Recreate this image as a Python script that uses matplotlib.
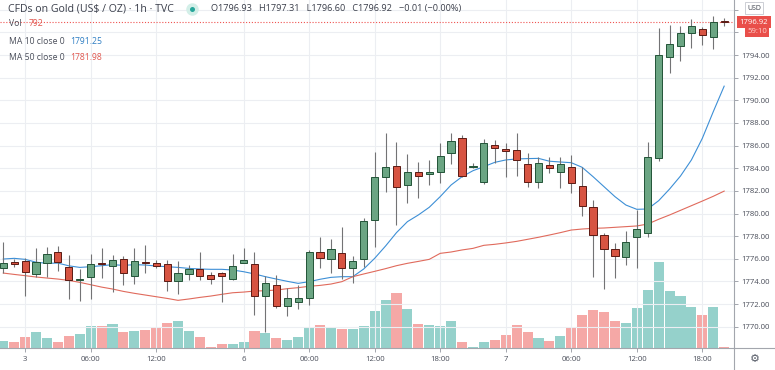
import numpy as np
import matplotlib
matplotlib.use("Agg")
import matplotlib.pyplot as plt
from matplotlib.lines import Line2D

plt.rcParams['font.family'] = ['Open Sans', 'DejaVu Sans']

# hourly bars, CFDs on Gold (US$ / OZ), TVC
opens = [1775.21, 1775.71, 1775.80, 1774.68, 1775.60, 1776.57, 1775.30, 1774.10, 1774.36, 1775.65,
         1775.36, 1776.01, 1774.51, 1775.71, 1775.63, 1775.51, 1774.06, 1774.62, 1775.07, 1774.57,
         1774.71, 1774.21, 1775.60, 1775.54, 1772.74, 1773.68, 1771.86, 1772.21, 1772.57, 1776.57,
         1775.95, 1776.48, 1775.21, 1775.95, 1779.43, 1783.19, 1784.20, 1782.52, 1783.64, 1783.49,
         1783.64, 1785.37, 1786.64, 1784.10, 1782.81, 1786.05, 1785.67, 1785.61, 1784.34, 1782.81,
         1784.26, 1783.70, 1784.08, 1782.46, 1780.54, 1778.10, 1776.83, 1776.13, 1777.90, 1778.31,
         1784.87, 1793.85, 1794.83, 1795.97, 1796.33, 1795.56, 1796.93]
highs = [1777.51, 1775.94, 1776.04, 1776.92, 1777.07, 1777.16, 1776.33, 1775.07, 1776.42, 1776.92,
         1776.33, 1776.24, 1776.92, 1777.21, 1775.86, 1775.89, 1775.80, 1775.45, 1776.57, 1774.86,
         1774.86, 1776.39, 1776.92, 1776.57, 1774.48, 1774.57, 1773.45, 1773.68, 1776.78, 1777.90,
         1777.75, 1778.78, 1776.25, 1779.63, 1785.46, 1787.08, 1786.35, 1785.23, 1784.58, 1784.73,
         1786.20, 1787.08, 1786.93, 1784.43, 1786.58, 1786.49, 1786.20, 1787.08, 1785.32, 1785.02,
         1785.02, 1785.02, 1785.17, 1784.14, 1781.19, 1778.25, 1777.37, 1778.45, 1780.31, 1786.35,
         1796.36, 1796.65, 1796.56, 1797.15, 1796.50, 1797.48, 1797.31]
lows = [1774.77, 1775.24, 1772.74, 1774.42, 1774.42, 1774.92, 1772.44, 1772.30, 1772.44, 1774.27,
        1773.09, 1773.68, 1773.74, 1774.77, 1775.15, 1773.15, 1772.86, 1774.12, 1774.12, 1773.74,
        1772.21, 1774.12, 1775.60, 1771.03, 1769.56, 1771.62, 1770.95, 1771.53, 1771.92, 1775.15,
        1774.77, 1774.18, 1773.89, 1775.30, 1777.07, 1781.93, 1778.98, 1780.96, 1781.34, 1782.52,
        1782.67, 1784.34, 1783.20, 1783.99, 1782.60, 1784.43, 1783.20, 1783.31, 1782.37, 1782.22,
        1783.55, 1782.22, 1781.84, 1779.81, 1774.42, 1773.30, 1774.33, 1775.45, 1775.21, 1777.95,
        1784.67, 1792.44, 1793.47, 1794.59, 1794.88, 1794.53, 1796.60]
closes = [1775.60, 1775.51, 1774.86, 1775.74, 1776.42, 1775.68, 1774.12, 1774.18, 1775.51, 1775.54,
          1775.86, 1774.71, 1775.80, 1775.63, 1775.36, 1774.04, 1774.71, 1775.09, 1774.51, 1774.24,
          1774.48, 1775.36, 1775.89, 1772.71, 1773.83, 1771.86, 1772.51, 1772.51, 1776.63, 1776.10,
          1776.86, 1775.15, 1775.80, 1779.34, 1783.25, 1784.08, 1782.31, 1783.64, 1783.34, 1783.67,
          1785.08, 1786.41, 1783.34, 1784.16, 1786.20, 1785.76, 1785.55, 1784.73, 1782.75, 1784.43,
          1784.05, 1784.37, 1782.67, 1780.69, 1778.10, 1776.83, 1776.25, 1777.45, 1778.63, 1785.02,
          1794.00, 1794.94, 1795.92, 1796.59, 1795.74, 1796.93, 1796.92]
volumes = [4000, 3400, 6800, 9400, 6200, 3800, 7400, 8400, 13000, 13200,
           14200, 9800, 10000, 11000, 12800, 15200, 16200, 10400, 6600, 600,
           2200, 2400, 3800, 10200, 8800, 5800, 4800, 6400, 12400, 13600,
           12600, 11200, 11200, 13200, 22200, 28800, 32800, 23200, 14400, 14000,
           13200, 16200, 3400, 400, 3600, 4800, 7800, 13800, 9600, 6000,
           4000, 7400, 12000, 19800, 22800, 21600, 16200, 14800, 24200, 34800,
           51600, 34200, 31200, 24600, 20000, 24400, 792]
ma10 = [1775.98, 1776.04, 1775.95, 1775.70, 1775.60, 1775.62, 1775.38, 1775.24, 1775.30, 1775.39,
        1775.48, 1775.42, 1775.48, 1775.45, 1775.36, 1775.30, 1775.24, 1775.15, 1775.10, 1775.07,
        1775.07, 1775.01, 1774.86, 1774.66, 1774.42, 1774.21, 1774.01, 1773.83, 1773.98, 1774.19,
        1774.36, 1774.42, 1774.42, 1775.10, 1776.04, 1777.13, 1778.31, 1779.28, 1779.87, 1780.55,
        1781.49, 1782.52, 1783.25, 1783.78, 1784.14, 1784.52, 1784.73, 1784.82, 1784.85, 1784.87,
        1784.62, 1784.55, 1784.49, 1784.08, 1783.25, 1782.37, 1781.49, 1780.75, 1780.37, 1780.40,
        1781.13, 1782.16, 1783.31, 1784.73, 1786.64, 1788.99, 1791.25]
ma50 = [1774.74, 1774.62, 1774.51, 1774.39, 1774.30, 1774.21, 1774.09, 1773.92, 1773.71, 1773.50,
        1773.33, 1773.12, 1772.95, 1772.80, 1772.65, 1772.50, 1772.33, 1772.45, 1772.59, 1772.71,
        1772.86, 1773.00, 1773.06, 1773.15, 1773.18, 1773.24, 1773.36, 1773.45, 1773.57, 1773.65,
        1773.77, 1773.98, 1774.42, 1774.66, 1774.89, 1775.13, 1775.39, 1775.60, 1775.77, 1775.95,
        1776.48, 1776.60, 1776.78, 1776.92, 1777.19, 1777.28, 1777.40, 1777.54, 1777.72, 1777.90,
        1778.10, 1778.31, 1778.54, 1778.63, 1778.69, 1778.72, 1778.78, 1778.84, 1778.90, 1779.07,
        1779.49, 1779.87, 1780.28, 1780.69, 1781.10, 1781.52, 1781.98]

tick_bars = [2, 8, 14, 22, 28, 34, 40, 46, 52, 58, 64]
tick_labels = ["3", "06:00", "12:00", "6", "06:00", "12:00", "18:00", "7", "06:00", "12:00", "18:00"]
price_ticks = np.arange(1770, 1799, 2)
# 1796 / 1798 sit under the USD and last-price boxes
hidden_ticks = [1796, 1798]

W, H = 775, 370
UP, DOWN = '#6ba583', '#d75442'
UP_EDGE, DOWN_EDGE = '#225437', '#5b1a13'
TXT = '#4a4e5a'
GRID = '#eceef2'
AXC = '#a3a6ad'


def fx(x):
    return x / W


def fy(y):
    return 1 - y / H


fig = plt.figure(figsize=(W / 100, H / 100), dpi=100)
rect = [0, fy(348), fx(734), 348 / H]
xlim = (-0.3, 66.9)

idx = np.arange(len(closes))
o = np.array(opens)
c = np.array(closes)
up = c >= o

# volume pane, underneath
vax = fig.add_axes(rect)
vax.bar(idx, volumes, width=0.92, color=np.where(up, '#95d1cb', '#f5a8a6'), linewidth=0)
vax.set_xlim(*xlim)
vax.set_ylim(0, max(volumes) * 4.05)
vax.axis('off')

# price pane
ax = fig.add_axes(rect)
ax.patch.set_alpha(0)
ax.set_xlim(*xlim)
ax.set_ylim(1768.12, 1798.86)
ax.grid(True, color=GRID, lw=0.8, zorder=0)
ax.set_axisbelow(True)

ax.plot(idx, ma10, color='#3d8fd6', lw=0.8, zorder=1)
ax.plot(idx, ma50, color='#e06a5c', lw=0.8, zorder=1)
ax.axhline(closes[-1], color='#ef5350', ls=(0, (1, 1.6)), lw=0.8, zorder=1)

ax.vlines(idx, lows, highs, color='#737375', lw=0.8, zorder=2)
body_h = np.maximum(np.abs(c - o), 0.06)
ax.bar(idx, body_h, bottom=np.minimum(o, c), width=0.66,
       color=np.where(up, UP, DOWN), edgecolor=np.where(up, UP_EDGE, DOWN_EDGE),
       linewidth=0.7, zorder=3)

ax.yaxis.tick_right()
ax.set_yticks(price_ticks)
ax.set_yticklabels(['' if p in hidden_ticks else '%.2f' % p for p in price_ticks])
ax.set_xticks(tick_bars)
ax.set_xticklabels(tick_labels)
ax.tick_params(axis='both', labelsize=5.6, labelcolor=TXT, color=AXC, length=3, width=0.7)
ax.tick_params(axis='y', pad=2)
ax.tick_params(axis='x', pad=2.5)
for s in ['left', 'top']:
    ax.spines[s].set_visible(False)
for s in ['right', 'bottom']:
    ax.spines[s].set_color(AXC)
    ax.spines[s].set_linewidth(0.8)

# axis lines continuing into the corner
fig.add_artist(Line2D([fx(734), 1], [fy(348), fy(348)], color=AXC, lw=0.8, transform=fig.transFigure))
fig.add_artist(Line2D([fx(734), fx(734)], [fy(348), 0], color=AXC, lw=0.8, transform=fig.transFigure))
fig.text(fx(755), fy(359), '\u2699', ha='center', va='center', fontsize=8, color='#555a66',
         family='DejaVu Sans')

# legend / header texts
fig.text(fx(8), fy(9), 'CFDs on Gold (US$ / OZ) \u00b7 1h \u00b7 TVC', ha='left', va='center',
         fontsize=7.6, color='#3a3e4a')
fig.add_artist(Line2D([fx(192)], [fy(9)], marker='o', ms=9, mfc='#d3efe8', mec='none',
                      transform=fig.transFigure))
fig.add_artist(Line2D([fx(192)], [fy(9)], marker='o', ms=3.6, mfc='#26a69a', mec='none',
                      transform=fig.transFigure))
fig.text(fx(211), fy(9), 'O%.2f   H%.2f   L%.2f   C%.2f   \u22120.01 (\u22120.00%%)'
         % (opens[-1], highs[-1], lows[-1], closes[-1]),
         ha='left', va='center', fontsize=6.6, color='#3a3e4a')
fig.text(fx(9), fy(23), 'Vol', ha='left', va='center', fontsize=6.2, color=TXT)
fig.text(fx(29), fy(23), '%d' % volumes[-1], ha='left', va='center', fontsize=6.2, color='#e0574f')
fig.text(fx(9), fy(42), 'MA 10 close 0', ha='left', va='center', fontsize=6.2, color=TXT)
fig.text(fx(70), fy(42), '%.2f' % ma10[-1], ha='left', va='center', fontsize=6.2, color='#2f7fc4')
fig.text(fx(9), fy(58), 'MA 50 close 0', ha='left', va='center', fontsize=6.2, color=TXT)
fig.text(fx(70), fy(58), '%.2f' % ma50[-1], ha='left', va='center', fontsize=6.2, color='#e0574f')

# price scale labels
fig.text(fx(754), fy(8), 'USD', ha='center', va='center', fontsize=5, color='#3a3e4a',
         bbox=dict(boxstyle='square,pad=0.35', fc='white', ec='#c5c8cf', lw=0.6))
fig.text(fx(754), fy(22), '%.2f' % closes[-1], ha='center', va='center', fontsize=5.6, color='white',
         bbox=dict(boxstyle='square,pad=0.3', fc='#e94f4a', ec='none'))
fig.text(fx(757), fy(31.5), '59:10', ha='center', va='center', fontsize=5.6, color='#ffd3cf',
         bbox=dict(boxstyle='square,pad=0.25', fc='#e94f4a', ec='none'))

fig.savefig('out.png', dpi=100)
